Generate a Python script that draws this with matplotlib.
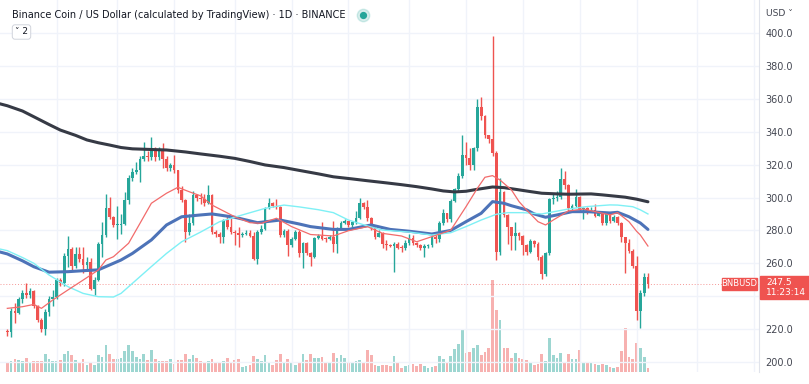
import numpy as np
import matplotlib
matplotlib.use("Agg")
import matplotlib.pyplot as plt
from matplotlib import transforms
from matplotlib.patches import Rectangle

# ---- data (daily BNB/USD) ----
first_open = 219.0
closes = [218.5, 231.0, 230.0, 238.0, 241.8, 240.5, 243.2, 234.0, 225.5, 220.2,
          230.4, 238.3, 239.3, 249.9, 248.0, 264.4, 268.5, 258.4, 265.6, 262.4,
          259.2, 261.0, 244.6, 249.9, 271.8, 277.2, 293.6, 288.0, 283.3, 283.5,
          284.0, 298.5, 311.7, 315.7, 317.0, 323.2, 325.2, 324.5, 329.3, 324.4,
          328.9, 323.2, 317.7, 319.8, 316.7, 304.6, 298.5, 279.2, 284.3, 301.5,
          300.0, 299.0, 296.5, 301.5, 279.2, 278.0, 276.2, 286.3, 282.3, 279.2,
          278.3, 277.5, 278.0, 278.5, 276.8, 262.4, 279.2, 280.7, 293.5, 296.8,
          295.0, 294.0, 277.2, 279.6, 271.1, 274.6, 279.2, 266.4, 272.1, 266.0,
          264.0, 275.2, 276.8, 275.0, 274.5, 276.0, 271.8, 281.3, 284.7, 285.5,
          283.0, 285.0, 287.4, 296.5, 294.0, 287.4, 282.3, 276.2, 278.6, 271.8,
          271.0, 270.8, 272.0, 269.5, 269.1, 272.5, 275.2, 272.5, 271.0, 269.1,
          270.5, 271.0, 276.2, 274.6, 284.3, 290.4, 286.7, 298.1, 305.0, 313.3,
          325.8, 323.8, 319.8, 329.9, 354.8, 349.5, 338.0, 335.5, 327.2, 267.0,
          303.1, 289.4, 282.3, 276.6, 278.6, 276.6, 271.1, 267.0, 273.7, 272.0,
          264.0, 253.5, 266.4, 298.9, 300.0, 300.5, 311.1, 307.6, 293.4, 295.0,
          300.5, 292.8, 293.5, 292.0, 292.5, 289.0, 290.5, 284.3, 290.0, 285.9,
          288.3, 284.7, 275.8, 272.2, 267.7, 258.4, 231.2, 242.1, 251.5, 247.5]
highs = [220, 232.6, 236, 239.7, 243.8, 248.2, 245, 244, 234.5, 226.5,
         232, 240, 243.8, 251, 251, 266, 276.6, 270, 270, 270,
         270, 264, 263, 251.5, 273, 285.3, 302, 300.5, 289, 295,
         290, 303.5, 313.5, 318, 321.8, 325, 333.9, 328, 337, 331,
         331, 333, 325, 321, 325.8, 317, 307, 299, 290, 304,
         302, 303, 302, 307.6, 302, 280, 279, 287, 289.4, 289,
         280, 282, 279, 280, 280, 279, 280, 283, 294, 299.5,
         297, 299, 295, 281, 281, 276, 280, 280, 273, 273,
         267, 276, 278, 285, 276, 277, 286, 282, 286, 287,
         286, 286, 292, 299.5, 297, 298.5, 288, 283, 280, 279,
         274, 272, 273, 273, 271, 274, 278, 277, 273, 272,
         272, 272, 277, 277, 286, 293, 290, 299, 306, 315,
         338, 333.9, 329.9, 331, 359.7, 361.3, 350, 338, 398, 328,
         311.7, 304, 290, 282, 285, 279, 277, 272, 275, 274,
         273, 265, 267, 300, 303, 304, 317.7, 316, 308, 296,
         305, 301, 294.5, 294, 294, 296, 292, 291, 291, 291,
         289.5, 289, 285, 276, 275, 268.5, 264.4, 244, 253.9, 254]
lows = [216, 215, 223.7, 229, 236, 239, 239, 233, 224, 218,
        216.4, 228, 234, 238.5, 246, 246, 258, 256, 257, 261,
        254, 256, 243.5, 240.7, 249, 264, 276, 287, 282, 275,
        278, 283, 296, 310, 314, 309.6, 322, 322, 323, 322,
        323, 318, 316, 316, 315, 303, 297, 273.1, 277, 283,
        298, 296, 295, 296, 278, 276, 272.5, 272.5, 281, 278,
        271.1, 270.1, 276, 277, 276, 262, 259.6, 278, 280, 293,
        294, 293, 276, 276, 264.4, 270, 274, 264, 257, 265,
        258.4, 263, 275, 274, 273, 274, 267, 266.5, 281, 284,
        282, 282, 284, 287, 293, 286, 280, 275, 276, 269.5,
        268, 270, 255, 268.5, 267, 268, 271, 271, 270, 268,
        264, 269, 270, 272.5, 273, 283, 285, 285, 297, 304,
        312, 320, 316.7, 317, 328, 347, 336, 333, 325, 262,
        265, 288, 272, 268, 268, 274, 265, 265, 266, 270,
        262, 250.3, 252, 265, 296, 298, 299, 305, 292, 292,
        294, 291, 287, 290, 291, 288, 289, 283, 283, 284.5,
        285, 283, 273, 253.9, 266, 257, 225.5, 220.5, 240, 245]
volumes = [9, 11, 13, 12, 11, 14, 9, 11, 11, 11,
           18, 13, 11, 11, 12, 18, 21, 17, 12, 9,
           13, 7, 9, 7, 17, 15, 27, 18, 13, 13,
           14, 21, 27, 21, 15, 13, 18, 12, 22, 13,
           11, 11, 11, 13, 8, 12, 12, 18, 13, 17,
           14, 11, 9, 11, 13, 10, 9, 11, 14, 10,
           12, 13, 5, 6, 7, 16, 13, 11, 17, 9,
           7, 12, 18, 10, 13, 10, 7, 9, 18, 12,
           18, 14, 14, 15, 9, 9, 19, 14, 17, 14,
           9, 9, 11, 12, 9, 22, 17, 7, 6, 7,
           7, 6, 16, 9, 4, 6, 7, 8, 6, 8,
           6, 4, 5, 6, 16, 13, 9, 16, 23, 28,
           43, 19, 20, 24, 27, 17, 20, 24, 92, 62,
           52, 24, 24, 14, 19, 14, 13, 12, 9, 7,
           8, 18, 11, 34, 17, 14, 19, 9, 18, 13,
           13, 22, 10, 9, 9, 8, 7, 8, 7, 5,
           4, 5, 21, 44, 15, 13, 29, 24, 15, 4]

# moving averages (candle index, value)
ma_slow_idx = [-2, 0, 4, 7, 11, 14, 18, 21, 24, 27, 30, 33, 38, 42, 47, 51, 56, 60, 64, 68, 73, 77, 82, 86, 91, 95,
               100, 104, 108, 112, 115, 118, 121, 124, 128, 131, 134, 138, 141, 145, 148, 151, 154, 157, 160, 163, 166, 169]
ma_slow = [357, 355.8, 352.6, 349.1, 344.4, 341, 337.8, 335, 333.3, 331.9, 330.4, 329.6, 329.2, 328.9, 327.7, 326.5,
           325.1, 323.8, 321.9, 319.8, 318.2, 316.5, 314.4, 312.6, 311.3, 310.2, 308.9, 307.8, 306.6, 305.2, 304, 303.4,
           303.8, 305, 306.4, 306, 305, 303.6, 302.6, 302.2, 302, 302.1, 302.2, 301.6, 300.9, 300.2, 299, 297.4]
ma_mid_idx = [-2, 0, 4, 7, 11, 16, 20, 24, 27, 30, 33, 38, 42, 46, 51, 54, 60, 66, 72, 77, 80, 86, 90, 96, 101, 106,
              112, 117, 121, 125, 128, 131, 133, 137, 139, 142, 145, 149, 153, 159, 161, 164, 167, 169]
ma_mid = [266.9, 265.7, 261.5, 257.9, 254.6, 254.9, 255.5, 256, 259, 262, 266, 274.2, 283.3, 288.3, 289.4, 290, 288,
          284.7, 286.3, 283.9, 282.3, 280.6, 280.6, 283.3, 280.6, 279.5, 277.8, 280, 285.3, 290.4, 297.5, 296.5, 295,
          292.5, 290, 288, 289.4, 291.4, 291.4, 290.6, 291, 288.3, 284.5, 280.6]
ma_cyan_idx = [-2, 0, 4, 7, 11, 16, 20, 24, 28, 30, 33, 38, 42, 46, 51, 56, 62, 68, 73, 77, 82, 86, 90, 95, 99, 106,
               112, 117, 121, 125, 129, 132, 136, 141, 148, 153, 159, 161, 165, 167, 169]
ma_cyan = [268.7, 267.7, 263.5, 260, 252.9, 245.8, 241.7, 239.7, 239.5, 241.7, 247.8, 258, 266, 273.1, 279, 285.3,
           289.4, 293.4, 295.4, 294.3, 292.6, 290.8, 286.3, 282.7, 280.2, 279, 277.2, 278.6, 282.3, 286.3, 289.8,
           290.8, 290.8, 290, 293, 294.5, 295.5, 295.4, 294.4, 292.5, 290]
ma_fast_idx = [0, 4, 7, 9, 12, 16, 20, 24, 26, 28, 32, 35, 38, 42, 45, 48, 51, 54, 60, 64, 67, 71, 75, 80, 86, 90, 95,
               99, 104, 108, 112, 115, 117, 121, 124, 126, 128, 130, 133, 135, 137, 140, 142, 144, 148, 152, 159, 161,
               164, 166, 167, 169]
ma_fast = [232.6, 233.6, 235, 232.6, 237.7, 243.8, 249.8, 255.9, 262, 264, 272.2, 284.3, 296.5, 302.6, 306.2, 303.5,
           301, 295.4, 288.3, 284.7, 284.3, 287.4, 282.3, 277.5, 276.6, 279.8, 282.3, 278.2, 276.6, 273.1, 276.2,
           278.5, 280.2, 294.4, 305.6, 312.3, 313.3, 310.6, 304.6, 297.5, 292.4, 285.3, 283.3, 286.3, 291.8, 293,
           289.4, 290.8, 285.3, 279.5, 277.2, 270.5]

price_ticks = [200, 220, 260, 280, 300, 320, 340, 360, 380, 400]  # 240 sits under the price label
grid_prices = list(range(200, 420, 20))
grid_days = [13, 29, 44, 60, 75, 90, 106, 121, 136, 151, 166, 182, 197]
last_price = 247.5

# ---- derived ----
c = np.array(closes)
o = np.concatenate([[first_open], c[:-1]])
h = np.maximum(np.array(highs), np.maximum(o, c))
lo = np.minimum(np.array(lows), np.minimum(o, c))
v = np.array(volumes)
idx = np.arange(len(c))
up = c >= o

GREEN = '#26a69a'
RED = '#ef5350'
TXT = '#131722'
GRID = '#f0f3fa'

plt.rcParams['font.family'] = ['DejaVu Sans']

fig = plt.figure(figsize=(8.09, 3.84), dpi=100)
fig.patch.set_facecolor('white')
ax = fig.add_axes([0, 12 / 384, 759 / 809, 372 / 384])
ax2 = ax.twinx()
ax.set_zorder(ax2.get_zorder() + 1)
ax.patch.set_visible(False)

# volume
vcol = np.where(up, GREEN, RED)
ax2.bar(idx, v, width=0.72, color=vcol, alpha=0.45, linewidth=0)
ax2.set_ylim(0, v.max() * 4.05)
ax2.axis('off')

# grid
for p in grid_prices:
    ax.axhline(p, color=GRID, lw=1, zorder=0)
for gd in grid_days:
    ax.axvline(gd, color=GRID, lw=1, zorder=0)

# candles
body_lo = np.minimum(o, c)
body_h = np.maximum(np.abs(c - o), 0.6)
ccol = np.where(up, GREEN, RED)
ax.vlines(idx, lo, h, colors=ccol, lw=1, zorder=3)
ax.bar(idx, body_h, bottom=body_lo, width=0.72, color=ccol, linewidth=0, zorder=4)

# moving averages
ax.plot(ma_slow_idx, ma_slow, color='#363a45', lw=2.2, zorder=5, solid_capstyle='round', solid_joinstyle='round')
ax.plot(ma_mid_idx, ma_mid, color='#4d73b8', lw=2.2, zorder=5, solid_capstyle='round', solid_joinstyle='round')
ax.plot(ma_cyan_idx, ma_cyan, color='#7ff0f5', lw=1.0, zorder=5)
ax.plot(ma_fast_idx, ma_fast, color='#f26b6b', lw=0.9, zorder=5)

# last price line
ax.axhline(last_price, color=RED, lw=0.7, ls=(0, (1, 2)), alpha=0.6, zorder=2)

ax.set_xlim(-1.93, 198.3)
ax.set_ylim(193.9, 420.1)

for s in ['top', 'left', 'bottom']:
    ax.spines[s].set_visible(False)
ax.spines['right'].set_color('#e0e3eb')
ax.set_xticks([])
ax.yaxis.tick_right()
ax.set_yticks(price_ticks)
ax.set_yticklabels([f'{p:.1f}' for p in price_ticks])
ax.tick_params(axis='y', length=0, pad=4.5, labelsize=7.0, labelcolor='#434651')

# price label on axis
bt = transforms.blended_transform_factory(fig.transFigure, ax.transData)
ax.add_patch(Rectangle((760 / 809, last_price - 9.0), 49 / 809, 14.0, transform=bt,
                       color=RED, clip_on=False, zorder=10))
ax.text(766 / 809, last_price + 0.6, f'{last_price:.1f}', transform=bt, color='white',
        fontsize=6.5, va='center', ha='left', zorder=11)
ax.text(766 / 809, last_price - 5.3, '11:23:14', transform=bt, color='white',
        fontsize=6.5, va='center', ha='left', zorder=11)
ax.add_patch(Rectangle((722 / 809, last_price - 3.7), 35 / 809, 7.2, transform=bt,
                       color=RED, clip_on=False, zorder=10))
ax.text(739.5 / 809, last_price, 'BNBUSD', transform=bt, color='white',
        fontsize=6.0, va='center', ha='center', zorder=11)

# header
fig.text(12 / 809, 1 - 15 / 384, 'Binance Coin / US Dollar (calculated by TradingView) · 1D · BINANCE',
         fontsize=7.0, color=TXT, va='center', ha='left')
ax.plot([363 / 809], [1 - 15 / 384], 'o', ms=9, color=GREEN, alpha=0.18, transform=fig.transFigure, clip_on=False)
ax.plot([363 / 809], [1 - 15 / 384], 'o', ms=4.2, color=GREEN, transform=fig.transFigure, clip_on=False)
fig.text(15 / 809, 1 - 32 / 384, '˅ 2', fontsize=6.5, color=TXT, va='center', ha='left',
         bbox=dict(boxstyle='round,pad=0.3,rounding_size=0.3', fc='white', ec='#d1d4dc', lw=0.7))
fig.text(766 / 809, 1 - 13 / 384, 'USD ˅', fontsize=6.6, color='#434651', va='center', ha='left')

fig.savefig('out.png', dpi=100, facecolor='white')
